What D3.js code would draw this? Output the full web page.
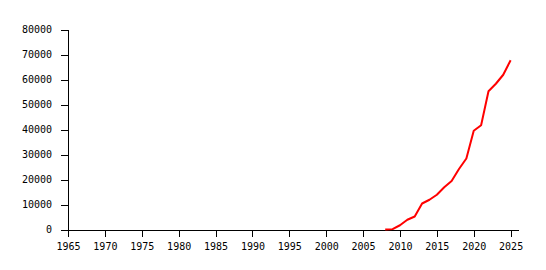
<!DOCTYPE html>
<html>
<head>
<meta charset="utf-8">
<script src="https://cdn.jsdelivr.net/npm/d3@7"></script>
<style>
  html, body { margin: 0; padding: 0; background: #fff; }
  svg { display: block; }
  .axis text { font-family: 'DejaVu Sans Mono', monospace; font-size: 10px; fill: #000; }
  .axis path, .axis line { stroke: #000; stroke-width: 1; shape-rendering: crispEdges; }
</style>
</head>
<body>
<svg id="chart"></svg>
<script>
const years = [2008, 2009, 2010, 2011, 2012, 2013, 2014, 2015, 2016, 2017,
  2018, 2019, 2020, 2021, 2022, 2023, 2024, 2025]
const counts = [0, 150, 1700, 3900, 5200, 10400, 11900, 13900, 16900, 19400,
  24200, 28400, 39500, 41700, 55300, 58300, 61900, 67700]
const yearTicks = [1965, 1970, 1975, 1980, 1985, 1990, 1995, 2000, 2005, 2010, 2015, 2020, 2025]
const countTicks = [0, 10000, 20000, 30000, 40000, 50000, 60000, 70000, 80000]

const width = 546
const height = 270
const margin = { top: 29.5, right: 28, bottom: 40.5, left: 68 }

const svg = d3.select('#chart')
  .attr('width', width)
  .attr('height', height)

const x = d3.scaleLinear()
  .domain([1965, 2026])
  .range([margin.left, width - margin.right])

const y = d3.scaleLinear()
  .domain([0, 80000])
  .range([height - margin.bottom, margin.top])

const data = years.map((yr, i) => ({ year: yr, value: counts[i] }))

// axes
svg.append('g')
  .attr('class', 'axis')
  .attr('transform', `translate(0,${height - margin.bottom})`)
  .call(d3.axisBottom(x)
    .tickValues(yearTicks)
    .tickFormat(d3.format('d'))
    .tickSize(7)
    .tickSizeOuter(0)
    .tickPadding(6))

svg.append('g')
  .attr('class', 'axis')
  .attr('transform', `translate(${margin.left},0)`)
  .call(d3.axisLeft(y)
    .tickValues(countTicks)
    .tickFormat(d3.format('d'))
    .tickSize(7)
    .tickSizeOuter(0)
    .tickPadding(9))

// series line
const line = d3.line()
  .x(d => x(d.year))
  .y(d => y(d.value))

svg.append('path')
  .datum(data)
  .attr('fill', 'none')
  .attr('stroke', '#ff0000')
  .attr('stroke-width', 2)
  .attr('stroke-linejoin', 'round')
  .attr('d', line)
</script>
</body>
</html>
